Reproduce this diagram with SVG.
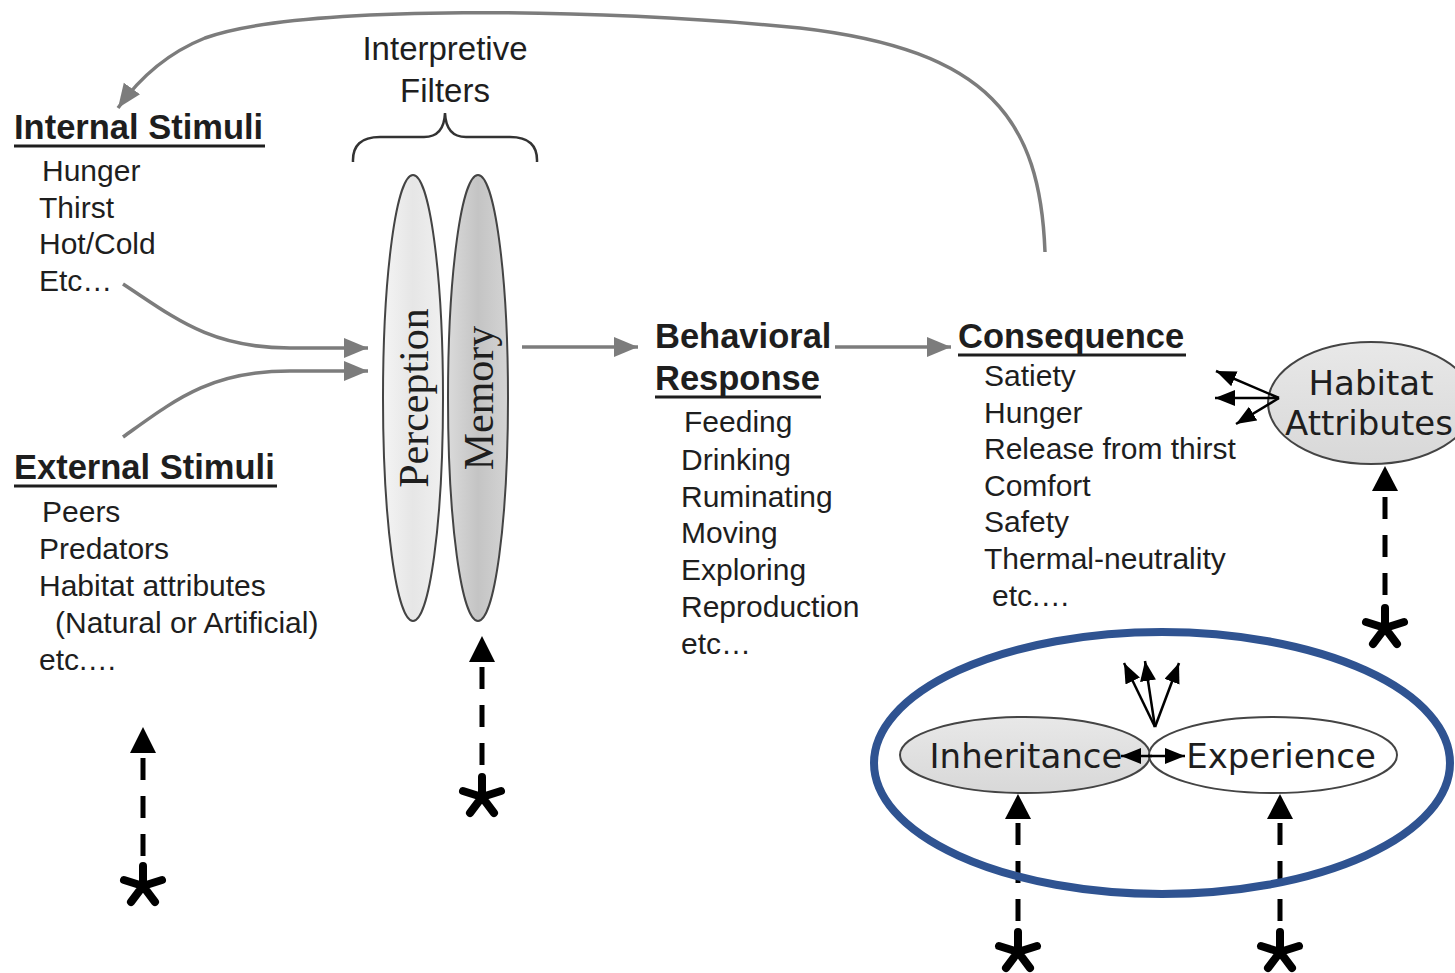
<svg xmlns="http://www.w3.org/2000/svg" width="1455" height="973" viewBox="0 0 1455 973">
<style>
.h{font-family:"Liberation Sans",Arial,sans-serif;font-weight:bold;font-size:34.5px;fill:#1e1e1e}
.t{font-family:"Liberation Sans",Arial,sans-serif;font-size:30px;fill:#1e1e1e}
.c{font-family:"DejaVu Sans",sans-serif;font-size:34px;fill:#1e1e1e}
.s{font-family:"Liberation Serif","Times New Roman",serif;font-size:42px;fill:#1e1e1e}
.ul{stroke:#1e1e1e;stroke-width:3}
.gray{fill:none;stroke:#7c7c7c;stroke-width:3.5}
.blk{fill:none;stroke:#000;stroke-width:2.5}
.dash{stroke:#000;stroke-width:5;stroke-dasharray:22,16}
.star{stroke:#000;stroke-width:8;stroke-linecap:round;fill:none}
.ell{stroke:#444;stroke-width:2}
</style>
<defs>
<marker id="ga" markerUnits="userSpaceOnUse" markerWidth="26" markerHeight="22" refX="24" refY="10" orient="auto"><path d="M0,0 L24,10 L0,20 Z" fill="#7c7c7c"/></marker>
<marker id="ba" markerUnits="userSpaceOnUse" markerWidth="22" markerHeight="18" refX="20" refY="8" orient="auto"><path d="M0,0 L20,8 L0,16 Z" fill="#000"/></marker>
<linearGradient id="gp" x1="0" y1="0" x2="1" y2="0"><stop offset="0" stop-color="#f4f4f4"/><stop offset="0.5" stop-color="#e6e6e6"/><stop offset="1" stop-color="#f0f0f0"/></linearGradient>
<linearGradient id="gm" x1="0" y1="0" x2="1" y2="0"><stop offset="0" stop-color="#dadada"/><stop offset="0.5" stop-color="#c4c4c4"/><stop offset="1" stop-color="#d4d4d4"/></linearGradient>
<linearGradient id="gh" x1="0" y1="0" x2="0" y2="1"><stop offset="0" stop-color="#e8e8e8"/><stop offset="1" stop-color="#d8d8d8"/></linearGradient>
<g id="star"><path class="star" d="M0,-20 L0,0 M-19,-6 L0,0 M19,-6 L0,0 M-12,16 L0,0 M12,16 L0,0"/></g>
</defs>
<rect width="1455" height="973" fill="#fff"/>

<g id="interpretive-filters">
<text class="t" x="445" y="60" text-anchor="middle" style="font-size:33px">Interpretive</text>
<text class="t" x="445" y="102" text-anchor="middle" style="font-size:33px">Filters</text>
<path d="M353,162 Q352,137 380,137 L424,137 Q444,137 445,113 Q446,137 466,137 L510,137 Q538,137 537,162" fill="none" stroke="#333" stroke-width="2.5"/>
</g>

<g id="perception">
<ellipse class="ell" cx="413" cy="398" rx="30" ry="223" fill="url(#gp)"/>
<text class="s" transform="translate(428,398) rotate(-90)" text-anchor="middle">Perception</text>
</g>
<g id="memory">
<ellipse class="ell" cx="478" cy="398" rx="30" ry="223" fill="url(#gm)"/>
<text class="s" transform="translate(493,398) rotate(-90)" text-anchor="middle">Memory</text>
</g>

<g id="internal-stimuli">
<text class="h" x="14" y="139">Internal Stimuli</text>
<line class="ul" x1="14" y1="146" x2="265" y2="146"/>
<text class="t" x="42" y="181">Hunger</text>
<text class="t" x="39" y="218">Thirst</text>
<text class="t" x="39" y="254">Hot/Cold</text>
<text class="t" x="39" y="291">Etc…</text>
</g>

<g id="external-stimuli">
<text class="h" x="14" y="479">External Stimuli</text>
<line class="ul" x1="14" y1="486" x2="277" y2="486"/>
<text class="t" x="42" y="522">Peers</text>
<text class="t" x="39" y="559">Predators</text>
<text class="t" x="39" y="596">Habitat attributes</text>
<text class="t" x="55" y="633">(Natural or Artificial)</text>
<text class="t" x="39" y="670">etc.…</text>
</g>

<g id="behavioral-response">
<text class="h" x="655" y="348">Behavioral</text>
<text class="h" x="655" y="390">Response</text>
<line class="ul" x1="655" y1="397" x2="821" y2="397"/>
<text class="t" x="684" y="432">Feeding</text>
<text class="t" x="681" y="470">Drinking</text>
<text class="t" x="681" y="507">Ruminating</text>
<text class="t" x="681" y="543">Moving</text>
<text class="t" x="681" y="580">Exploring</text>
<text class="t" x="681" y="617">Reproduction</text>
<text class="t" x="681" y="654">etc…</text>
</g>

<g id="consequence">
<text class="h" x="958" y="348">Consequence</text>
<line class="ul" x1="958" y1="355" x2="1186" y2="355"/>
<text class="t" x="984" y="386">Satiety</text>
<text class="t" x="984" y="423">Hunger</text>
<text class="t" x="984" y="459">Release from thirst</text>
<text class="t" x="984" y="496">Comfort</text>
<text class="t" x="984" y="532">Safety</text>
<text class="t" x="984" y="569">Thermal-neutrality</text>
<text class="t" x="992" y="606">etc.…</text>
</g>

<g id="habitat-attributes">
<ellipse class="ell" cx="1371" cy="403" rx="103" ry="61" fill="url(#gh)"/>
<text class="c" x="1371" y="395" text-anchor="middle">Habitat</text>
<text class="c" x="1285" y="435">Attributes</text>
</g>

<g id="inheritance">
<ellipse class="ell" cx="1025" cy="755" rx="125" ry="38" fill="url(#gh)"/>
<text class="c" x="1026" y="768" text-anchor="middle">Inheritance</text>
</g>
<g id="experience">
<ellipse class="ell" cx="1273" cy="755" rx="124" ry="38" fill="#fff"/>
<text class="c" x="1281" y="768" text-anchor="middle">Experience</text>
</g>

<g id="connectors">
<path class="gray" d="M1045,252 C1040,120 990,50 800,28 C600,8 300,4 205,38 C165,54 138,80 118,108" marker-end="url(#ga)"/>
<path class="gray" d="M123,284 C175,318 210,348 290,348 L368,348" marker-end="url(#ga)"/>
<path class="gray" d="M123,437 C175,400 210,371 290,371 L368,371" marker-end="url(#ga)"/>
<path class="gray" d="M522,347 L638,347" marker-end="url(#ga)"/>
<path class="gray" d="M835,347 L951,347" marker-end="url(#ga)"/>
<path class="blk" d="M1279,398 L1216,371" marker-end="url(#ba)"/>
<path class="blk" d="M1279,398 L1215,398" marker-end="url(#ba)"/>
<path class="blk" d="M1279,398 L1236,424" marker-end="url(#ba)"/>
<path class="blk" d="M1155,727 L1124,663" marker-end="url(#ba)"/>
<path class="blk" d="M1155,727 L1145,661" marker-end="url(#ba)"/>
<path class="blk" d="M1155,727 L1179,663" marker-end="url(#ba)"/>
<path class="blk" d="M1152,756 L1121,756" marker-end="url(#ba)"/>
<path class="blk" d="M1148,756 L1185,756" marker-end="url(#ba)"/>
<line class="dash" x1="143" y1="758" x2="143" y2="862"/>
<path d="M130,753 L143,727 L156,753 Z" fill="#000"/>
<use href="#star" x="143" y="886"/>
<line class="dash" x1="482" y1="667" x2="482" y2="772"/>
<path d="M469,662 L482,636 L495,662 Z" fill="#000"/>
<use href="#star" x="482" y="797"/>
<line class="dash" x1="1385" y1="497" x2="1385" y2="602"/>
<path d="M1372,491 L1385,466 L1398,491 Z" fill="#000"/>
<use href="#star" x="1385" y="628"/>
<line class="dash" x1="1018" y1="823" x2="1018" y2="928"/>
<path d="M1005,819 L1018,794 L1031,819 Z" fill="#000"/>
<use href="#star" x="1018" y="952"/>
<line class="dash" x1="1280" y1="823" x2="1280" y2="928"/>
<path d="M1267,819 L1280,794 L1293,819 Z" fill="#000"/>
<use href="#star" x="1280" y="952"/>
</g>

<g id="highlight">
<ellipse cx="1162" cy="763" rx="288" ry="131" fill="none" stroke="#2f5391" stroke-width="8"/>
</g>
</svg>
